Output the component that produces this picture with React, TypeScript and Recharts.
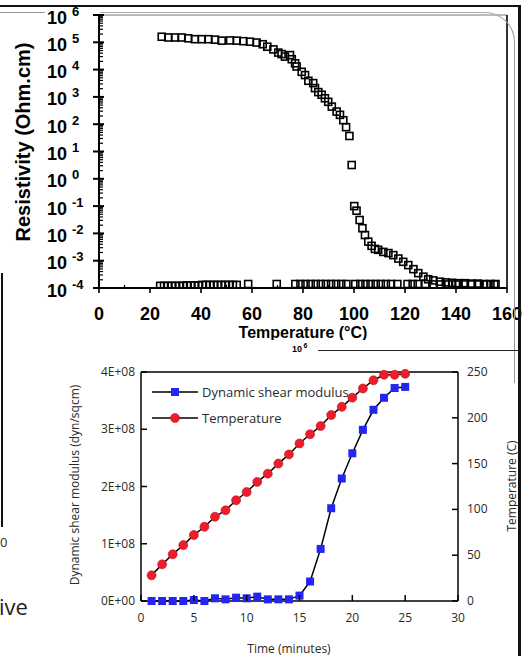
import { ComposedChart, Label, Legend, Line, ReferenceLine, Scatter, ScatterChart, XAxis, YAxis } from "recharts"

// --- top panel: resistivity vs temperature (log scale) ---
const heatingTemp = [
    24.6, 27.2, 29.8, 32.4, 35.0, 37.6, 40.3, 42.9, 45.5, 48.1, 51.4, 54.0, 56.6, 59.2, 61.8, 64.2, 66.0, 68.4,
    70.3, 71.6, 72.9, 74.9, 75.6, 76.9, 77.5, 79.5, 80.8, 82.1, 84.0, 84.7, 86.0, 87.3, 88.6, 89.9, 91.3, 93.2,
    94.5, 95.8, 96.9, 98.2, 99.1, 100.1, 101.0, 102.2, 103.3, 104.3, 105.6, 106.9, 108.2, 109.5, 111.5, 113.5,
    115.4, 117.4, 119.3, 121.3, 123.3, 125.2, 127.2, 129.1, 131.1, 133.7, 136.0, 138.5, 141.0, 143.5, 146.0,
    148.5, 151.0, 153.5, 155.5,
]
const heatingRes = [
    1.6e5, 1.5e5, 1.5e5, 1.5e5, 1.4e5, 1.3e5, 1.3e5, 1.3e5, 1.25e5, 1.15e5, 1.17e5, 1.15e5, 1.1e5, 1.05e5, 9.8e4,
    8.5e4, 6.9e4, 5.5e4, 4.2e4, 3.7e4, 3.0e4, 3.4e4, 2.4e4, 1.7e4, 1.3e4, 8.3e3, 6.3e3, 3.9e3, 3.2e3, 2.1e3,
    1.5e3, 1.2e3, 890, 660, 440, 290, 220, 140, 78, 37, 3.2, 0.1, 0.068, 0.031, 0.0155, 0.0087, 0.005, 0.0035,
    0.0027, 0.0025, 0.0021, 0.0019, 0.0016, 0.0012, 9.1e-4, 6.9e-4, 4.9e-4, 3.5e-4, 2.6e-4, 2.1e-4, 1.9e-4,
    1.7e-4, 1.6e-4, 1.55e-4, 1.5e-4, 1.5e-4, 1.45e-4, 1.45e-4, 1.4e-4, 1.4e-4, 1.4e-4,
]
const coolingTemp = [
    24.0, 25.5, 27.0, 28.5, 30.0, 31.5, 33.0, 34.5, 36.0, 37.5, 39.0, 40.5, 42.0, 43.5, 45.0, 46.5, 48.0, 49.5,
    51.0, 52.5, 54.0, 58.5, 69.7, 77.0, 79.0, 81.0, 83.0, 85.0, 87.0, 89.0, 91.0, 93.0, 95.0, 97.0, 100.5, 102.5,
    104.5, 106.5, 108.5, 110.5, 112.5, 114.5, 117.0, 121.0, 123.0, 125.0, 128.0, 131.0, 134.0, 137.0, 140.0,
    143.0, 146.0, 149.0, 152.0, 155.0,
]
const coolingRes = [
    1.2e-4, 1.2e-4, 1.2e-4, 1.2e-4, 1.2e-4, 1.2e-4, 1.2e-4, 1.25e-4, 1.25e-4, 1.25e-4, 1.25e-4, 1.3e-4, 1.3e-4,
    1.3e-4, 1.3e-4, 1.3e-4, 1.3e-4, 1.3e-4, 1.3e-4, 1.3e-4, 1.3e-4, 1.4e-4, 1.4e-4, 1.4e-4, 1.4e-4, 1.4e-4,
    1.4e-4, 1.4e-4, 1.4e-4, 1.4e-4, 1.4e-4, 1.4e-4, 1.4e-4, 1.4e-4, 1.4e-4, 1.4e-4, 1.4e-4, 1.4e-4, 1.4e-4,
    1.4e-4, 1.4e-4, 1.4e-4, 1.4e-4, 1.4e-4, 1.4e-4, 1.4e-4, 1.4e-4, 1.35e-4, 1.35e-4, 1.35e-4, 1.35e-4, 1.35e-4,
    1.35e-4, 1.35e-4, 1.35e-4, 1.35e-4,
]
const tempTicks = [0, 10, 20, 30, 40, 50, 60, 70, 80, 90, 100, 110, 120, 130, 140, 150, 160]
const resDecades = [-4, -3, -2, -1, 0, 1, 2, 3, 4, 5, 6]

// --- bottom panel: modulus and temperature vs time ---
const timeMin = [1, 2, 3, 4, 5, 6, 7, 8, 9, 10, 11, 12, 13, 14, 15, 16, 17, 18, 19, 20, 21, 22, 23, 24, 25]
const shearModulus = [
    0, 0, 0, 0, 1.7e6, 0, 4.7e6, 2.9e6, 5.8e6, 4.7e6, 7.6e6, 2.9e6, 2.9e6, 2.9e6, 9.4e6, 3.4e7, 9.1e7, 1.62e8,
    2.14e8, 2.58e8, 2.99e8, 3.34e8, 3.55e8, 3.72e8, 3.74e8,
]
const temperatureC = [28, 40, 51, 61, 72, 81, 92, 99, 110, 119, 130, 139, 150, 160, 172, 182, 191, 203, 212, 222, 232, 241, 247, 247, 248]
const timeTicks = [0, 5, 10, 15, 20, 25, 30]
const modulusTicks = [0, 1e8, 2e8, 3e8, 4e8]
const modulusLabels = ["0E+00", "1E+08", "2E+08", "3E+08", "4E+08"]
const tempCTicks = [0, 50, 100, 150, 200, 250]
const seriesNames = ["Dynamic shear modulus", "Temperature"]

const heating = heatingTemp.map((t, i) => ({ t, r: heatingRes[i] }))
const cooling = coolingTemp.map((t, i) => ({ t, r: coolingRes[i] }))
const rheo = timeMin.map((t, i) => ({ t, g: shearModulus[i], temp: temperatureC[i] }))

// decades plus the 2..9 minor steps inside each
const resTicks: number[] = []
resDecades.forEach(d => {
    resTicks.push(Math.pow(10, d))
    if (d < 6) for (let m = 2; m < 10; m++) resTicks.push(m * Math.pow(10, d))
})

const ARIAL = "'Liberation Sans', Arial, sans-serif"
const SANS = "'Open Sans', sans-serif"
const INK = "#2a2a2a"
const BLUE = "#2525f2"
const RED = "#ee1d2c"

const OpenSquare = (props: any) => {
    const { cx, cy } = props
    if (cx == null || cy == null) return <g />
    return <rect x={cx - 3.5} y={cy - 3.5} width={7} height={7} fill="none" stroke="#000" strokeWidth={1.6} />
}

const ResTick = (props: any) => {
    const { x, y, payload } = props
    const lg = Math.log10(payload.value)
    const exp = Math.round(lg)
    if (Math.abs(lg - exp) > 1e-6) {
        return <line x1={x} x2={x + 4} y1={y} y2={y} stroke="#000" strokeWidth={1.2} />
    }
    return (
        <g>
            <line x1={x - 6} x2={x + 5} y1={y} y2={y} stroke="#000" strokeWidth={2} />
            <text x={x - 52} y={y + 8.5} fontFamily={ARIAL} fontWeight="bold" fontSize={18} fill="#000">
                10
                <tspan dx={5} dy={-8} fontSize={13}>{exp}</tspan>
            </text>
        </g>
    )
}

const TempTick = (props: any) => {
    const { x, y, payload } = props
    if (payload.value % 20 !== 0) {
        return <line x1={x} x2={x} y1={y} y2={y - 3} stroke="#000" strokeWidth={1.2} />
    }
    return (
        <g>
            <line x1={x} x2={x} y1={y} y2={y + 5} stroke="#000" strokeWidth={1.6} />
            <text x={x} y={y + 32} textAnchor="middle" fontFamily={ARIAL} fontWeight="bold" fontSize={18} fill="#000">
                {payload.value}
            </text>
        </g>
    )
}

const TimeTick = (props: any) => {
    const { x, y, payload } = props
    return (
        <g>
            <line x1={x} x2={x} y1={y} y2={y - 6} stroke="#000" strokeWidth={1.5} />
            <text x={x} y={y + 21} textAnchor="middle" fontFamily={SANS} fontSize={12} fill={INK}>{payload.value}</text>
        </g>
    )
}

const ModulusTick = (props: any) => {
    const { x, y, payload } = props
    const i = modulusTicks.indexOf(payload.value)
    return (
        <g>
            <line x1={x} x2={x + 6} y1={y} y2={y} stroke="#000" strokeWidth={1.5} />
            <text x={x - 6} y={y + 4} textAnchor="end" fontFamily={SANS} fontSize={12} fill={INK}>{modulusLabels[i]}</text>
        </g>
    )
}

const TempCTick = (props: any) => {
    const { x, y, payload } = props
    return (
        <g>
            <line x1={x} x2={x - 6} y1={y} y2={y} stroke="#000" strokeWidth={1.5} />
            <text x={x + 9} y={y + 4} fontFamily={SANS} fontSize={12} fill={INK}>{payload.value}</text>
        </g>
    )
}

const BlueSquare = (props: any) => {
    const { cx, cy, index } = props
    return <rect key={`g-${index}`} x={cx - 4} y={cy - 4} width={8} height={8} fill={BLUE} />
}

const RedDot = (props: any) => {
    const { cx, cy, index } = props
    return <circle key={`t-${index}`} cx={cx} cy={cy} r={4.5} fill={RED} stroke="#c0101c" strokeWidth={0.6} />
}

const RheoLegend = () => (
    <svg width={200} height={52}>
        {seriesNames.map((name, i) => {
            const cy = 13 + i * 26
            return (
                <g key={name}>
                    <line x1={2} x2={48} y1={cy} y2={cy} stroke="#000" strokeWidth={1.5} />
                    {i === 0
                        ? <rect x={21} y={cy - 4} width={8} height={8} fill={BLUE} />
                        : <circle cx={25} cy={cy} r={4.5} fill={RED} stroke="#c0101c" strokeWidth={0.6} />}
                    <text x={52} y={cy + 4.5} fontFamily={SANS} fontSize={13} fill={INK}>{name}</text>
                </g>
            )
        })}
    </svg>
)

const abs = (left: number, top: number, extra: object = {}) => ({ position: "absolute" as const, left, top, ...extra })

export default function App() {
    return (
        <div style={{ position: "absolute", left: 0, top: 0, width: 524, height: 656, background: "#fff", overflow: "hidden" }}>
            <div style={abs(0, 0)}>
                <ScatterChart width={524} height={340} margin={{ top: 15, right: 17, bottom: 0, left: 0 }}>
                    <XAxis
                        type="number"
                        dataKey="t"
                        domain={[0, 160]}
                        ticks={tempTicks}
                        interval={0}
                        height={52}
                        tickSize={0}
                        tickMargin={0}
                        tickLine={false}
                        tick={TempTick}
                        axisLine={{ stroke: "#000", strokeWidth: 2 }}
                    >
                        <Label
                            content={() => (
                                <text x={303} y={338} textAnchor="middle" fontFamily={ARIAL} fontWeight="bold" fontSize={16} fill="#000">
                                    Temperature (°C)
                                </text>
                            )}
                        />
                    </XAxis>
                    <YAxis
                        type="number"
                        dataKey="r"
                        scale="log"
                        domain={[1e-4, 1e6]}
                        allowDataOverflow
                        ticks={resTicks}
                        interval={0}
                        width={99}
                        tickSize={0}
                        tickMargin={0}
                        tickLine={false}
                        tick={ResTick}
                        axisLine={{ stroke: "#000", strokeWidth: 2 }}
                    >
                        <Label
                            content={() => (
                                <text
                                    x={30}
                                    y={142}
                                    transform="rotate(-90 30 142)"
                                    textAnchor="middle"
                                    fontFamily={ARIAL}
                                    fontWeight="bold"
                                    fontSize={20}
                                    fill="#000"
                                >
                                    Resistivity (Ohm.cm)
                                </text>
                            )}
                        />
                    </YAxis>
                    <ReferenceLine y={1e6} stroke="#777" strokeWidth={1} />
                    <ReferenceLine x={160} stroke="#000" strokeWidth={1.6} />
                    <Scatter data={heating} shape={OpenSquare} isAnimationActive={false} />
                    <Scatter data={cooling} shape={OpenSquare} isAnimationActive={false} />
                </ScatterChart>
            </div>

            <div style={abs(0, 355)}>
                <ComposedChart width={524} height={301} data={rheo} margin={{ top: 17, right: 0, bottom: 0, left: 0 }}>
                    <XAxis
                        type="number"
                        dataKey="t"
                        domain={[0, 30]}
                        ticks={timeTicks}
                        interval={0}
                        height={55}
                        tickSize={0}
                        tickMargin={0}
                        tickLine={false}
                        tick={TimeTick}
                        axisLine={{ stroke: "#000", strokeWidth: 1.5 }}
                    >
                        <Label
                            content={() => (
                                <text x={289} y={298} textAnchor="middle" fontFamily={SANS} fontSize={12} fill={INK}>
                                    Time (minutes)
                                </text>
                            )}
                        />
                    </XAxis>
                    <YAxis
                        yAxisId="g"
                        type="number"
                        domain={[0, 4e8]}
                        ticks={modulusTicks}
                        interval={0}
                        width={141}
                        tickSize={0}
                        tickMargin={0}
                        tickLine={false}
                        tick={ModulusTick}
                        axisLine={{ stroke: "#000", strokeWidth: 1.5 }}
                    >
                        <Label
                            content={() => (
                                <text x={79} y={130} transform="rotate(-90 79 130)" textAnchor="middle" fontFamily={SANS} fontSize={12} fill={INK}>
                                    Dynamic shear modulus (dyn/sqcm)
                                </text>
                            )}
                        />
                    </YAxis>
                    <YAxis
                        yAxisId="T"
                        orientation="right"
                        type="number"
                        domain={[0, 250]}
                        ticks={tempCTicks}
                        interval={0}
                        width={66}
                        tickSize={0}
                        tickMargin={0}
                        tickLine={false}
                        tick={TempCTick}
                        axisLine={{ stroke: "#000", strokeWidth: 1.5 }}
                    >
                        <Label
                            content={() => (
                                <text x={516} y={131} transform="rotate(-90 516 131)" textAnchor="middle" fontFamily={SANS} fontSize={12} fill={INK}>
                                    Temperature (C)
                                </text>
                            )}
                        />
                    </YAxis>
                    <ReferenceLine yAxisId="g" y={4e8} stroke="#000" strokeWidth={1.5} />
                    <Line
                        yAxisId="T"
                        dataKey="temp"
                        stroke="#000"
                        strokeWidth={1.5}
                        dot={RedDot}
                        isAnimationActive={false}
                    />
                    <Line
                        yAxisId="g"
                        dataKey="g"
                        stroke="#000"
                        strokeWidth={1.5}
                        dot={BlueSquare}
                        isAnimationActive={false}
                    />
                    <Legend
                        layout="vertical"
                        align="center"
                        verticalAlign="middle"
                        content={RheoLegend}
                        wrapperStyle={{ left: 150, top: 24, width: 200, height: 52 }}
                    />
                </ComposedChart>
            </div>

            {/* page edges of the scanned composite */}
            <div style={abs(0, 5, { width: 520, height: 2, background: "#111" })} />
            <div style={abs(0, 12, { width: 45, height: 1, background: "#999" })} />
            <div style={abs(518, 5, { width: 3, height: 651, background: "#111" })} />
            <div
                style={abs(100, 12, {
                    width: 414,
                    height: 370,
                    borderTop: "1px solid #aaa",
                    borderRight: "1px solid #999",
                    borderTopRightRadius: 30,
                })}
            />
            <div style={abs(318, 350, { width: 200, height: 1, background: "#222" })} />
            <svg style={abs(288, 340)} width={28} height={14}>
                <text x={4} y={12} fontFamily={ARIAL} fontWeight="bold" fontSize={9} fill="#000">
                    10<tspan dx={1.5} dy={-4} fontSize={7}>6</tspan>
                </text>
            </svg>
            <div style={abs(1, 273, { width: 2, height: 254, background: "#111" })} />
            <svg style={abs(0, 520)} width={40} height={110}>
                <text x={0} y={27} fontFamily={SANS} fontSize={13} fill={INK}>0</text>
                <text x={-1} y={95} fontFamily={SANS} fontSize={22} fill="#222">ive</text>
            </svg>
        </div>
    )
}
